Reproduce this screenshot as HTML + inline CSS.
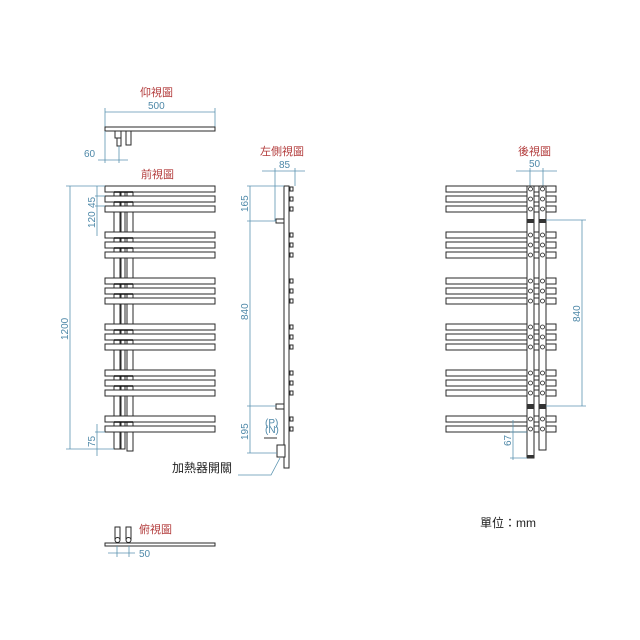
<!DOCTYPE html>
<html><head><meta charset="utf-8"><style>
body{margin:0;background:#fff}
svg{display:block}
.l{stroke:#2a2a2a;fill:#fff;stroke-width:1}
.d{stroke:#5b93b0;stroke-width:0.8;fill:none}
.t{fill:#b23a3a;font-family:"Liberation Sans","Noto Sans CJK TC",sans-serif;font-size:11px}
.n{fill:#4e88a8;font-family:"Liberation Sans",sans-serif;font-size:10px}
</style></head><body>
<svg width="640" height="640" viewBox="0 0 640 640" xmlns="http://www.w3.org/2000/svg">
<defs>
<g id="bars3">
<rect class="l" x="0" y="0" width="110" height="6"/>
<rect class="l" x="0" y="10" width="110" height="6"/>
<rect class="l" x="0" y="20" width="110" height="6"/>
</g>
</defs>

<!-- 仰視圖 -->
<text class="t" x="140" y="96">仰視圖</text>
<text class="n" x="148" y="109">500</text>
<line class="d" x1="105" y1="112" x2="215" y2="112"/>
<line class="d" x1="105" y1="108" x2="105" y2="127"/>
<line class="d" x1="215" y1="108" x2="215" y2="127"/>
<rect class="l" x="105" y="127" width="110" height="4"/>
<rect class="l" x="115" y="131" width="6" height="7"/>
<rect class="l" x="117" y="138" width="4" height="8"/>
<rect class="l" x="126" y="131" width="5" height="14" fill="#555"/>
<line class="d" x1="98" y1="160" x2="128" y2="160"/>
<line class="d" x1="105" y1="131" x2="105" y2="163"/>
<line class="d" x1="119" y1="146" x2="119" y2="163"/>
<text class="n" x="84" y="157">60</text>

<!-- 前視圖 -->
<text class="t" x="141" y="178">前視圖</text>
<g class="l">
<rect x="114" y="186" width="6" height="263"/>
<rect x="121" y="186" width="4" height="263"/>
<rect x="127" y="186" width="6" height="265"/>
</g>
<use href="#bars3" x="105" y="186"/>
<use href="#bars3" x="105" y="232"/>
<use href="#bars3" x="105" y="278"/>
<use href="#bars3" x="105" y="324"/>
<use href="#bars3" x="105" y="370"/>
<rect class="l" x="105" y="416" width="110" height="6"/>
<rect class="l" x="105" y="426" width="110" height="6"/>
<g stroke="#111" stroke-width="1.5">
<line x1="114" y1="192" x2="133" y2="192"/><line x1="114" y1="202" x2="133" y2="202"/>
<line x1="114" y1="238" x2="133" y2="238"/><line x1="114" y1="248" x2="133" y2="248"/>
<line x1="114" y1="284" x2="133" y2="284"/><line x1="114" y1="294" x2="133" y2="294"/>
<line x1="114" y1="330" x2="133" y2="330"/><line x1="114" y1="340" x2="133" y2="340"/>
<line x1="114" y1="376" x2="133" y2="376"/><line x1="114" y1="386" x2="133" y2="386"/>
<line x1="114" y1="422" x2="133" y2="422"/>
</g>
<line class="d" x1="70" y1="186" x2="70" y2="449"/>
<line class="d" x1="66" y1="186" x2="105" y2="186"/>
<line class="d" x1="66" y1="449" x2="114" y2="449"/>
<text class="n" transform="translate(68,340) rotate(-90)">1200</text>
<line class="d" x1="97" y1="186" x2="97" y2="236"/>
<line class="d" x1="95" y1="196" x2="105" y2="196"/>
<line class="d" x1="95" y1="206" x2="105" y2="206"/>
<text class="n" transform="translate(95,228) rotate(-90)">120</text>
<text class="n" transform="translate(95,208) rotate(-90)">45</text>
<line class="d" x1="97" y1="424" x2="97" y2="456"/>
<line class="d" x1="95" y1="432" x2="105" y2="432"/>
<text class="n" transform="translate(95,447) rotate(-90)">75</text>

<!-- 左側視圖 -->
<text class="t" x="260" y="155">左側視圖</text>
<text class="n" x="279" y="168">85</text>
<line class="d" x1="262" y1="171" x2="305" y2="171"/>
<line class="d" x1="275" y1="168" x2="275" y2="221"/>
<line class="d" x1="295" y1="168" x2="295" y2="186"/>
<rect class="l" x="284" y="186" width="5" height="282"/>
<g class="l">
<rect x="290" y="187" width="3" height="4"/><rect x="290" y="197" width="3" height="4"/><rect x="290" y="207" width="3" height="4"/>
<rect x="290" y="233" width="3" height="4"/><rect x="290" y="243" width="3" height="4"/><rect x="290" y="253" width="3" height="4"/>
<rect x="290" y="279" width="3" height="4"/><rect x="290" y="289" width="3" height="4"/><rect x="290" y="299" width="3" height="4"/>
<rect x="290" y="325" width="3" height="4"/><rect x="290" y="335" width="3" height="4"/><rect x="290" y="345" width="3" height="4"/>
<rect x="290" y="371" width="3" height="4"/><rect x="290" y="381" width="3" height="4"/><rect x="290" y="391" width="3" height="4"/>
<rect x="290" y="417" width="3" height="4"/><rect x="290" y="427" width="3" height="4"/>
<rect x="276" y="219" width="8" height="4"/>
<rect x="276" y="404" width="8" height="5"/>
<rect x="277" y="445" width="8" height="12"/>
</g>
<line class="d" x1="250" y1="186" x2="250" y2="453"/>
<line class="d" x1="247" y1="186" x2="284" y2="186"/>
<line class="d" x1="247" y1="221" x2="276" y2="221"/>
<line class="d" x1="247" y1="406" x2="276" y2="406"/>
<line class="d" x1="247" y1="453" x2="277" y2="453"/>
<text class="n" transform="translate(248,212) rotate(-90)">165</text>
<text class="n" transform="translate(248,320) rotate(-90)">840</text>
<text class="n" transform="translate(248,440) rotate(-90)">195</text>
<text class="n" x="265" y="426" font-size="6">(P)</text>
<text class="n" x="265" y="433" font-size="6">(N)</text>
<line x1="264" y1="438" x2="277" y2="438" stroke="#333"/>
<polyline points="280,458 271,475 238,475" fill="none" stroke="#5b93b0" stroke-width="0.8"/>
<text x="172" y="472" font-family="'Liberation Sans','Noto Sans CJK TC',sans-serif" font-size="12" fill="#222">加熱器開關</text>

<!-- 後視圖 -->
<text class="t" x="518" y="155">後視圖</text>
<text class="n" x="529" y="167">50</text>
<line class="d" x1="516" y1="171" x2="557" y2="171"/>
<line class="d" x1="530" y1="168" x2="530" y2="186"/>
<line class="d" x1="543" y1="168" x2="543" y2="186"/>
<use href="#bars3" x="446" y="186"/>
<use href="#bars3" x="446" y="232"/>
<use href="#bars3" x="446" y="278"/>
<use href="#bars3" x="446" y="324"/>
<use href="#bars3" x="446" y="370"/>
<rect class="l" x="446" y="416" width="110" height="6"/>
<rect class="l" x="446" y="426" width="110" height="6"/>
<g class="l">
<rect x="527" y="186" width="7" height="272"/>
<rect x="539" y="186" width="7" height="264"/>
</g>
<g fill="#fff" stroke="#222" stroke-width="0.8">
<circle cx="530.5" cy="189" r="2"/><circle cx="542.5" cy="189" r="2"/>
<circle cx="530.5" cy="199" r="2"/><circle cx="542.5" cy="199" r="2"/>
<circle cx="530.5" cy="209" r="2"/><circle cx="542.5" cy="209" r="2"/>
<circle cx="530.5" cy="235" r="2"/><circle cx="542.5" cy="235" r="2"/>
<circle cx="530.5" cy="245" r="2"/><circle cx="542.5" cy="245" r="2"/>
<circle cx="530.5" cy="255" r="2"/><circle cx="542.5" cy="255" r="2"/>
<circle cx="530.5" cy="281" r="2"/><circle cx="542.5" cy="281" r="2"/>
<circle cx="530.5" cy="291" r="2"/><circle cx="542.5" cy="291" r="2"/>
<circle cx="530.5" cy="301" r="2"/><circle cx="542.5" cy="301" r="2"/>
<circle cx="530.5" cy="327" r="2"/><circle cx="542.5" cy="327" r="2"/>
<circle cx="530.5" cy="337" r="2"/><circle cx="542.5" cy="337" r="2"/>
<circle cx="530.5" cy="347" r="2"/><circle cx="542.5" cy="347" r="2"/>
<circle cx="530.5" cy="373" r="2"/><circle cx="542.5" cy="373" r="2"/>
<circle cx="530.5" cy="383" r="2"/><circle cx="542.5" cy="383" r="2"/>
<circle cx="530.5" cy="393" r="2"/><circle cx="542.5" cy="393" r="2"/>
<circle cx="530.5" cy="419" r="2"/><circle cx="542.5" cy="419" r="2"/>
<circle cx="530.5" cy="429" r="2"/><circle cx="542.5" cy="429" r="2"/>
</g>
<g fill="#333">
<rect x="527" y="219" width="7" height="4"/><rect x="539" y="219" width="7" height="4"/>
<rect x="527" y="404" width="7" height="5"/><rect x="539" y="404" width="7" height="5"/>
<rect x="527" y="455" width="7" height="3"/>
</g>
<line class="d" x1="582" y1="220" x2="582" y2="406"/>
<line class="d" x1="546" y1="220" x2="586" y2="220"/>
<line class="d" x1="546" y1="406" x2="586" y2="406"/>
<text class="n" transform="translate(580,322) rotate(-90)">840</text>
<line class="d" x1="513" y1="420" x2="513" y2="460"/>
<line class="d" x1="510" y1="432" x2="527" y2="432"/>
<line class="d" x1="510" y1="458" x2="527" y2="458"/>
<text class="n" transform="translate(511,446) rotate(-90)">67</text>

<!-- 俯視圖 -->
<text class="t" x="139" y="533">俯視圖</text>
<rect class="l" x="115" y="527" width="5" height="12"/>
<rect class="l" x="126" y="527" width="5" height="12"/>
<circle cx="117.5" cy="540" r="2.5" fill="#fff" stroke="#222"/>
<circle cx="128.5" cy="540" r="2.5" fill="#fff" stroke="#222"/>
<rect class="l" x="105" y="543" width="110" height="3"/>
<line class="d" x1="108" y1="553" x2="135" y2="553"/>
<line class="d" x1="117" y1="546" x2="117" y2="557"/>
<line class="d" x1="129" y1="546" x2="129" y2="557"/>
<text class="n" x="139" y="557">50</text>

<text x="480" y="527" font-family="'Liberation Sans','Noto Sans CJK TC',sans-serif" font-size="12" fill="#222">單位：mm</text>
</svg>
</body></html>
